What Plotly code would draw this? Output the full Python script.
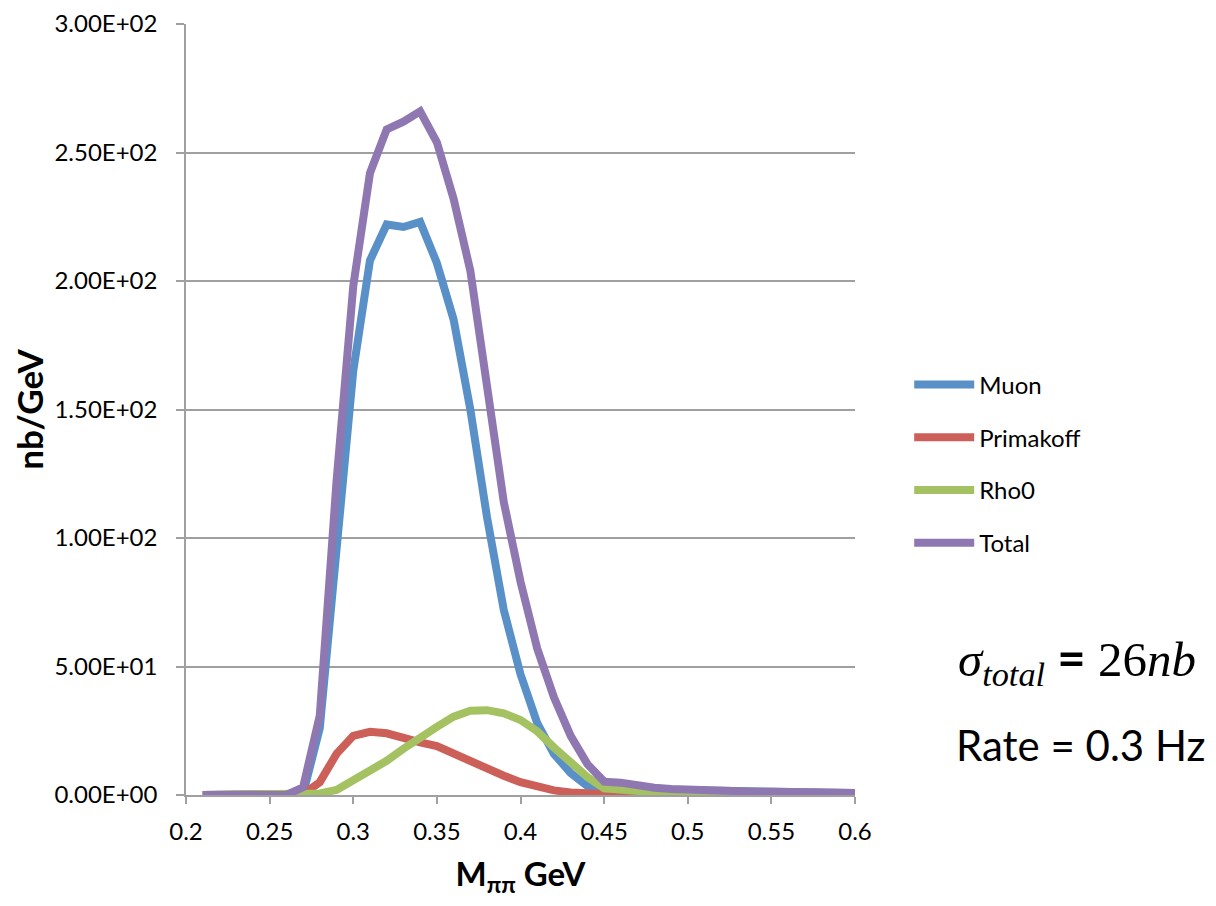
import plotly.graph_objects as go

# ---------------- data ----------------
mass = [0.21, 0.22, 0.23, 0.24, 0.25, 0.26, 0.27, 0.28, 0.29, 0.30,
        0.31, 0.32, 0.33, 0.34, 0.35, 0.36, 0.37, 0.38, 0.39, 0.40,
        0.41, 0.42, 0.43, 0.44, 0.45, 0.46, 0.47, 0.48, 0.49, 0.50,
        0.51, 0.52, 0.53, 0.54, 0.55, 0.56, 0.57, 0.58, 0.59, 0.60]

muon = [0, 0, 0, 0, 0, 0, 0.5, 26, 93, 165,
        208, 222, 221, 223, 207, 185, 150, 108, 72, 47,
        28, 16, 8.5, 3.5, 2.0, 2.5, 2.2, 2.1, 2.0, 1.9,
        1.8, 1.6, 1.4, 1.3, 1.3, 1.1, 1.0, 0.9, 0.8, 0.8]

primakoff = [0, 0, 0, 0, 0, 0, 0.3, 5, 16, 23,
             24.6, 24, 22.6, 20.5, 19, 16, 13, 10.5, 7.5, 5,
             3, 1.8, 1, 0.5, 0.2, 0.1, 0, 0, 0, 0,
             0, 0, 0, 0, 0, 0, 0, 0, 0, 0]

rho0 = [0, 0, 0, 0, 0, 0, 0.1, 0.6, 2.0, 5.6,
        9.3, 13.3, 18, 22.5, 26.5, 30.5, 32.8, 33, 31.8, 29.2,
        24.8, 18.5, 12.5, 7, 2.6, 2.0, 1.2, 0.6, 0.3, 0.1,
        0, 0, 0, 0, 0, 0, 0, 0, 0, 0]

total = [0, 0, 0, 0, 0, 0, 3, 31, 122, 198,
         242, 259, 262, 266, 254, 232, 204, 157, 114, 83,
         57, 38, 23, 12, 5.2, 4.8, 3.5, 2.8, 2.3, 2.0,
         1.8, 1.6, 1.4, 1.3, 1.3, 1.1, 1.0, 0.9, 0.8, 0.8]

series_names = ["Muon", "Primakoff", "Rho0", "Total"]
series_values = [muon, primakoff, rho0, total]
series_colors = ["#5A90C8", "#CC5F58", "#A5C263", "#8F78B1"]

y_tickvals = [0, 50, 100, 150, 200, 250, 300]
y_ticktext = ["0.00E+00", "5.00E+01", "1.00E+02", "1.50E+02",
              "2.00E+02", "2.50E+02", "3.00E+02"]
x_tickvals = [0.2, 0.25, 0.3, 0.35, 0.4, 0.45, 0.5, 0.55, 0.6]
x_ticktext = ["0.2", "0.25", "0.3", "0.35", "0.4", "0.45", "0.5", "0.55", "0.6"]

# ---------------- figure ----------------
FONT = "Lato, 'Open Sans', sans-serif"
GRID = "#A0A0A0"

fig = go.Figure()
for name, vals, col in zip(series_names, series_values, series_colors):
    fig.add_trace(go.Scatter(
        x=mass, y=vals, name=name, mode="lines",
        line=dict(color=col, width=8),
        legendgroup=name,
    ))

fig.update_layout(
    width=1200, height=890, autosize=False,
    paper_bgcolor="white", plot_bgcolor="white",
    margin=dict(l=178, r=353, t=16, b=103, autoexpand=False),
    font=dict(family=FONT, size=24, color="black"),
    showlegend=True,
    legend=dict(
        x=1.081, y=0.561, xanchor="left", yanchor="top",
        font=dict(family=FONT, size=24, color="black"),
        tracegroupgap=18.5, itemwidth=60,
        bgcolor="rgba(0,0,0,0)",
    ),
    xaxis=dict(
        range=[0.2, 0.6], tickvals=x_tickvals, ticktext=x_ticktext,
        showgrid=False, zeroline=False, automargin=False,
        showline=True, linecolor=GRID, linewidth=1.5,
        ticks="outside", ticklen=7, tickcolor=GRID, tickwidth=1.5,
        ticklabelstandoff=7,
        tickfont=dict(family=FONT, size=24),
        title=dict(text="<b>M<sub>ππ</sub> GeV</b>", font=dict(family=FONT, size=33),
                   standoff=20),
    ),
    yaxis=dict(
        range=[0, 300], tickvals=y_tickvals, ticktext=y_ticktext,
        showgrid=True, gridcolor=GRID, gridwidth=1.5,
        zeroline=False, automargin=False,
        showline=True, linecolor=GRID, linewidth=1.5,
        ticks="outside", ticklen=8, tickcolor=GRID, tickwidth=1.5,
        ticklabelstandoff=14,
        tickfont=dict(family=FONT, size=24),
        title=dict(text="<b>nb/GeV</b>", font=dict(family=FONT, size=35),
                   standoff=14),
    ),
    annotations=[
        dict(xref="paper", yref="paper", x=1.332, y=0.175,
             xanchor="center", yanchor="middle", showarrow=False,
             text="<i>σ<sub>total</sub></i> <span style='font-family:Lato'><b>=</b></span> 26<i>nb</i>",
             font=dict(family="'Liberation Serif', 'DejaVu Serif', serif", size=49, color="black")),
        dict(xref="paper", yref="paper", x=1.338, y=0.0649,
             xanchor="center", yanchor="middle", showarrow=False,
             text="Rate = 0.3 Hz",
             font=dict(family=FONT, size=42, color="black")),
    ],
)

fig.write_html("out.html")
